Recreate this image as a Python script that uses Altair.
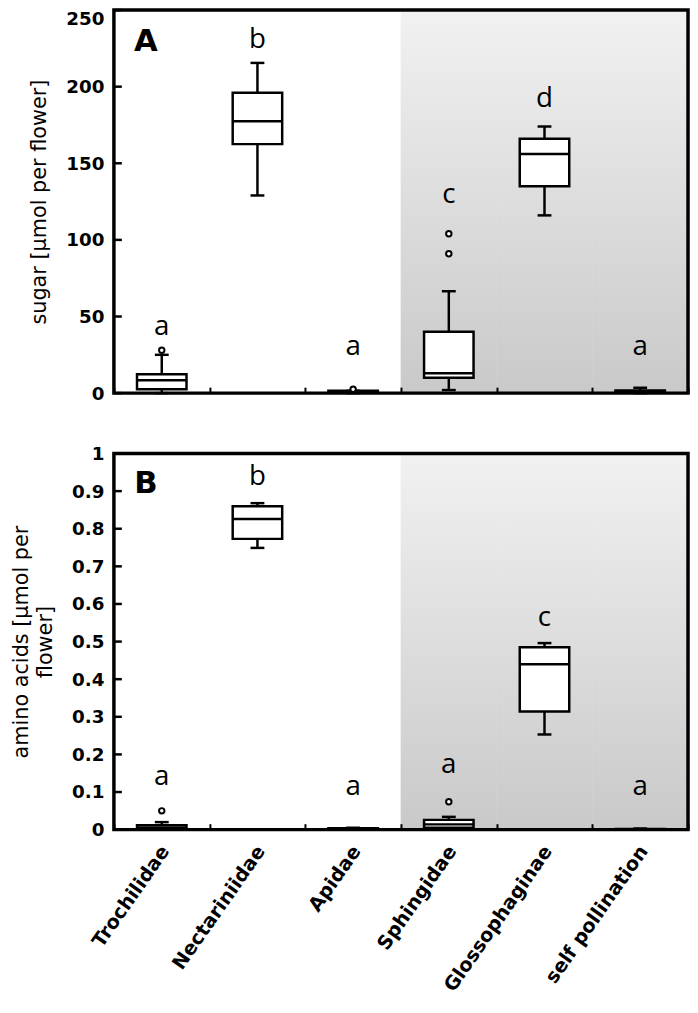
import altair as alt
import pandas as pd

categories = ["Trochilidae", "Nectariniidae", "Apidae", "Sphingidae",
              "Glossophaginae", "self pollination"]
shaded = ["Sphingidae", "Glossophaginae", "self pollination"]

# Panel A: sugar [µmol per flower]
sugar_low = [0, 129, 0, 2, 116, 0]
sugar_q1 = [2.5, 162.5, 0.3, 10, 135, 0.3]
sugar_med = [8.4, 177.5, 0.8, 13, 156, 1.0]
sugar_q3 = [12.3, 196, 1.5, 40, 166, 1.8]
sugar_high = [25, 215.5, 1.5, 66.5, 174, 3.5]
sugar_out_cat = ["Trochilidae", "Apidae", "Sphingidae", "Sphingidae"]
sugar_out_val = [28, 2.5, 91, 104]
sugar_letters = ["a", "b", "a", "c", "d", "a"]
sugar_letter_y = [38, 225, 24.6, 124, 186.5, 24.6]
sugar_ticks = [0, 50, 100, 150, 200, 250]

# Panel B: amino acids [µmol per flower]
amino_low = [0, 0.749, 0, 0.003, 0.253, 0]
amino_q1 = [0.002, 0.773, 0.001, 0.005, 0.314, 0.0005]
amino_med = [0.006, 0.826, 0.002, 0.014, 0.44, 0.001]
amino_q3 = [0.012, 0.86, 0.004, 0.026, 0.485, 0.002]
amino_high = [0.02, 0.868, 0.005, 0.034, 0.496, 0.003]
amino_out_cat = ["Trochilidae", "Sphingidae"]
amino_out_val = [0.05, 0.074]
amino_letters = ["a", "b", "a", "a", "c", "a"]
amino_letter_y = [0.119, 0.915, 0.092, 0.150, 0.541, 0.092]
amino_ticks = [0, 0.1, 0.2, 0.3, 0.4, 0.5, 0.6, 0.7, 0.8, 0.9, 1]

W = 580
BOX_W = 50

gradient = alt.LinearGradient(
    gradient="linear",
    stops=[alt.GradientStop(color="#f1f1f1", offset=0),
           alt.GradientStop(color="#c9c9c9", offset=1)],
    x1=0, x2=0, y1=0, y2=1,
)


def panel(low, q1, med, q3, high, out_cat, out_val, letters, letter_y,
          ymax, ticks, ytitle, fmt, panel_label, label_y, show_x, height,
          top_baseline):
    stats = pd.DataFrame({"cat": categories, "low": low, "q1": q1, "med": med,
                          "q3": q3, "high": high})
    outl = pd.DataFrame({"cat": out_cat, "val": out_val})
    lets = pd.DataFrame({"cat": categories, "txt": letters, "y": letter_y})
    bg = pd.DataFrame({"cat": shaded, "lo": [0] * len(shaded),
                       "hi": [ymax] * len(shaded)})
    lab = pd.DataFrame({"cat": [categories[0]], "txt": [panel_label],
                        "y": [label_y]})
    tk = pd.DataFrame({"v": ticks})

    xaxis = alt.Axis(title=None, labels=show_x, tickBand="extent", offset=-6,
                     tickSize=6, labelAngle=-55, labelAlign="right",
                     labelBaseline="middle", labelPadding=18, labelOffset=3,
                     labelFontSize=19.5)
    xs = alt.Scale(domain=categories, paddingInner=0, paddingOuter=0)
    x_enc = alt.X("cat:N", scale=xs, axis=xaxis, sort=categories)

    lb = {"condition": {"test": top_baseline, "value": "top"},
          "value": "middle"}
    yaxis = alt.Axis(title=ytitle, values=ticks, format=fmt, ticks=False,
                     labelPadding=10, titlePadding=16, labelBaseline=lb,
                     labelOverlap=False, labelSeparation=0)
    ys = alt.Scale(domain=[0, ymax], nice=False, zero=True)

    def Y(field):
        return alt.Y(field, scale=ys, axis=yaxis)

    back = alt.Chart(bg).mark_rect(fill=gradient, stroke=gradient,
                                   strokeWidth=0.6).encode(
        x=x_enc, y=Y("lo:Q"), y2="hi:Q")
    yticks = alt.Chart(tk).mark_rule(color="black", strokeWidth=2.5).encode(
        x=alt.value(0), x2=alt.value(8), y=Y("v:Q"))
    whisk = alt.Chart(stats).mark_rule(color="black", strokeWidth=2.5).encode(
        x=x_enc, y=Y("low:Q"), y2="high:Q")
    cap_hi = alt.Chart(stats).mark_tick(color="black", size=14, thickness=2.5,
                                        opacity=1).encode(
        x=x_enc, y=Y("high:Q"))
    cap_lo = alt.Chart(stats).mark_tick(color="black", size=14, thickness=2.5,
                                        opacity=1).encode(
        x=x_enc, y=Y("low:Q"))
    box = alt.Chart(stats).mark_bar(
        width=alt.RelativeBandSize(BOX_W / (W / 6)), fill="white",
        stroke="black", strokeWidth=2.5).encode(
        x=x_enc, y=Y("q1:Q"), y2="q3:Q")
    median = alt.Chart(stats).mark_tick(color="black", size=BOX_W,
                                        thickness=2.5, opacity=1).encode(
        x=x_enc, y=Y("med:Q"))
    pts = alt.Chart(outl).mark_point(shape="circle", fill="white",
                                     stroke="black", strokeWidth=2, size=30,
                                     opacity=1).encode(
        x=x_enc, y=Y("val:Q"))
    txt = alt.Chart(lets).mark_text(font="Open Sans", fontSize=28,
                                    baseline="alphabetic",
                                    color="black").encode(
        x=x_enc, y=Y("y:Q"), text="txt:N")
    plab = alt.Chart(lab).mark_text(font="DejaVu Sans", fontSize=31,
                                    fontWeight="bold", baseline="alphabetic",
                                    dx=-16, color="black").encode(
        x=x_enc, y=Y("y:Q"), text="txt:N")
    frame = alt.Chart(lab).mark_rect(fillOpacity=0, stroke="black",
                                     strokeWidth=3.5).encode(
        x=alt.value(0), x2=alt.value("width"),
        y=alt.value(0), y2=alt.value("height"))

    return alt.layer(back, yticks, whisk, cap_hi, cap_lo, box, median, pts,
                     txt, plab, frame).properties(width=W, height=height)


pA = panel(sugar_low, sugar_q1, sugar_med, sugar_q3, sugar_high,
           sugar_out_cat, sugar_out_val, sugar_letters, sugar_letter_y,
           250, sugar_ticks, "sugar [µmol per flower]", "d", "A", 223,
           False, 387, "datum.value == 250")
pB = panel(amino_low, amino_q1, amino_med, amino_q3, amino_high,
           amino_out_cat, amino_out_val, amino_letters, amino_letter_y,
           1, amino_ticks, ["amino acids [µmol per", "flower]"], ".1~f", "B",
           0.894, True, 380, "datum.value > 5")

chart = alt.vconcat(pA, pB, spacing=42).properties(
    padding={"left": 2, "top": -5, "right": 0, "bottom": -3}
).configure_view(
    stroke=None
).configure_axis(
    labelFont="DejaVu Sans", labelFontWeight="bold", labelFontSize=18.5,
    labelColor="black", titleFont="DejaVu Sans", titleFontWeight="normal",
    titleFontSize=21, titleColor="black", titleLineHeight=25,
    tickColor="black", tickWidth=2, grid=False, domain=False
)

chart.save("out.html", embed_options={"renderer": "svg", "actions": False})
